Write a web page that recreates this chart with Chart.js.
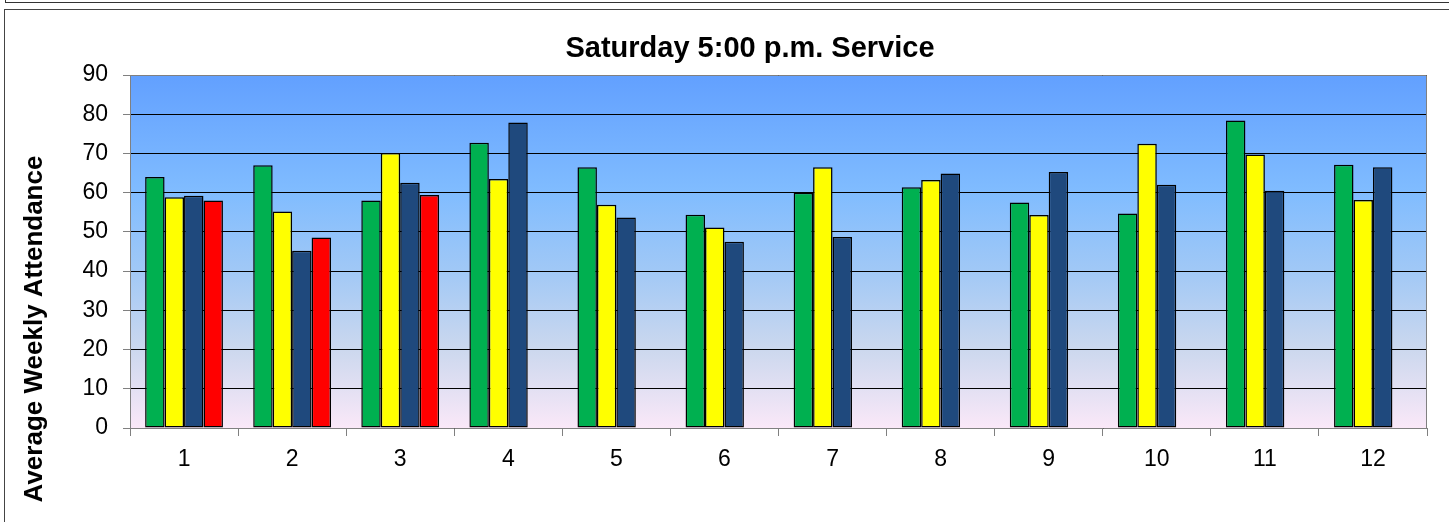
<!DOCTYPE html>
<html>
<head>
<meta charset="utf-8">
<title>Saturday 5:00 p.m. Service</title>
<script src="https://cdn.jsdelivr.net/npm/chart.js@4"></script>
<style>
  body { margin: 0; background: #fff; overflow: hidden; }
  #topbox { position: absolute; left: 5px; top: -20px; width: 2000px; height: 22px;
            border-left: 1px solid #333; border-bottom: 1px solid #333; }
  #chartbox { position: absolute; left: 4px; top: 9px; width: 2000px; height: 1000px;
              border-left: 1px solid #444; border-top: 1px solid #444; }
  #c { position: absolute; left: 0; top: 0; }
</style>
</head>
<body>
<div id="topbox"></div>
<div id="chartbox"></div>
<canvas id="c" width="1449" height="522"></canvas>
<script>
// chart data
const months = ["1", "2", "3", "4", "5", "6", "7", "8", "9", "10", "11", "12"];
const greenSeries  = [64, 67, 58, 72.7, 66.5, 54.4, 60, 61.4, 57.5, 54.7, 78.4, 67.1];
const yellowSeries = [58.8, 55.2, 70.1, 63.5, 56.9, 51.1, 66.5, 63.2, 54.3, 72.5, 69.7, 58.1];
const navySeries   = [59.2, 45.2, 62.5, 77.9, 53.7, 47.5, 48.7, 64.9, 65.3, 62.0, 60.5, 66.5];
const redSeries    = [58.0, 48.6, 59.4, null, null, null, null, null, null, null, null, null];

const chartTitle = "Saturday 5:00 p.m. Service";
const yTitle = "Average Weekly Attendance";

// gradient behind the plot, top/right frame, title and y label
const decorations = {
  id: "decorations",
  beforeDraw(chart) {
    const { ctx, chartArea: a } = chart;
    const g = ctx.createLinearGradient(0, a.top, 0, a.bottom);
    g.addColorStop(0, "#62A0FF");
    g.addColorStop(0.33, "#80BCFF");
    g.addColorStop(0.55, "#A0C8F6");
    g.addColorStop(0.78, "#CCD8EE");
    g.addColorStop(1, "#FAE8F8");
    ctx.save();
    ctx.fillStyle = g;
    ctx.fillRect(a.left, a.top, a.right - a.left, a.bottom - a.top);
    ctx.restore();
  },
  afterDraw(chart) {
    const { ctx, chartArea: a } = chart;
    ctx.save();
    ctx.strokeStyle = "#808080";
    ctx.lineWidth = 1;
    ctx.beginPath();
    ctx.moveTo(a.left, a.top + 0.5);
    ctx.lineTo(a.right - 0.5, a.top + 0.5);
    ctx.lineTo(a.right - 0.5, a.bottom);
    ctx.stroke();

    ctx.fillStyle = "#000";
    ctx.font = "bold 29px 'Liberation Sans', Arial, sans-serif";
    ctx.textAlign = "center";
    ctx.textBaseline = "alphabetic";
    ctx.fillText(chartTitle, 750, 57);

    ctx.font = "bold 26px 'Liberation Sans', Arial, sans-serif";
    ctx.translate(42, 329);
    ctx.rotate(-Math.PI / 2);
    ctx.fillText(yTitle, 0, 0);
    ctx.restore();
  }
};

const barStyle = { borderColor: "#000", borderWidth: 1.5, borderSkipped: false };

new Chart(document.getElementById("c"), {
  type: "bar",
  data: {
    labels: months,
    datasets: [
      { data: greenSeries, backgroundColor: "#00B050", ...barStyle },
      { data: yellowSeries, backgroundColor: "#FFFF00", ...barStyle },
      { data: navySeries, backgroundColor: "#1F497D", ...barStyle },
      { data: redSeries, backgroundColor: "#FF0000", ...barStyle }
    ]
  },
  options: {
    responsive: false,
    animation: false,
    devicePixelRatio: 1,
    layout: { padding: { left: 0, top: 75, right: 22, bottom: 0 } },
    categoryPercentage: 0.72,
    barPercentage: 1,
    plugins: { legend: { display: false }, tooltip: { enabled: false }, title: { display: false } },
    scales: {
      x: {
        afterFit: s => { s.height = 94; },
        grid: { offset: true, drawOnChartArea: false, tickLength: 8, color: "#808080" },
        border: { color: "#808080", width: 1 },
        ticks: { color: "#000", padding: 10, font: { family: "'Liberation Sans', Arial, sans-serif", size: 23 } }
      },
      y: {
        min: 0,
        max: 90,
        afterFit: s => { s.width = 130; },
        grid: { color: "#000", lineWidth: 1, tickLength: 7, tickColor: "#808080" },
        border: { color: "#808080", width: 1 },
        ticks: { stepSize: 10, color: "#000", padding: 15, font: { family: "'Liberation Sans', Arial, sans-serif", size: 23 } }
      }
    }
  },
  plugins: [decorations]
});
</script>
</body>
</html>
